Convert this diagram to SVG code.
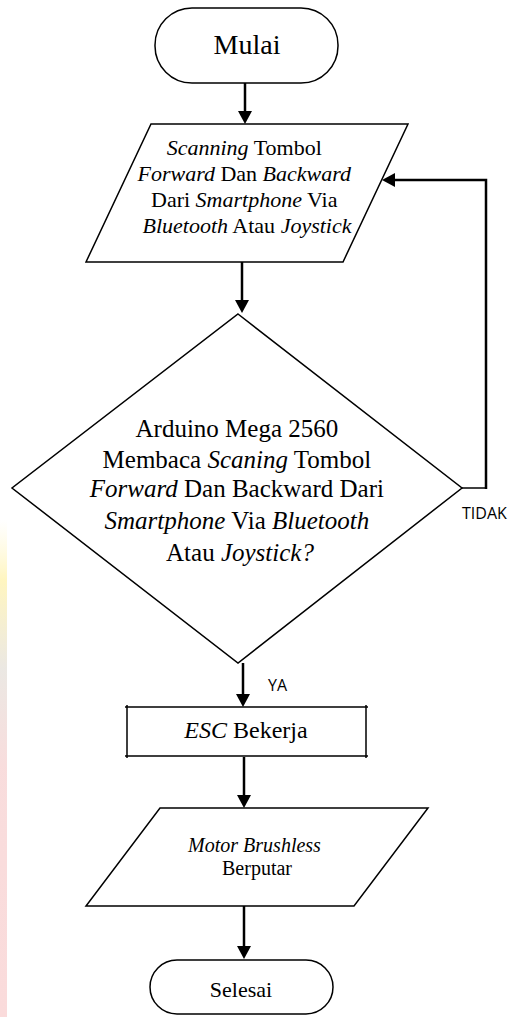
<svg xmlns="http://www.w3.org/2000/svg" width="509" height="1017" viewBox="0 0 509 1017">
<style>
.shape{fill:none;stroke:#000;stroke-width:1.5;stroke-linejoin:miter}
.conn{fill:none;stroke:#000;stroke-width:2.5}
.thin{fill:none;stroke:#000;stroke-width:1.5}
.t{font-family:"Liberation Serif","Times New Roman",serif;fill:#000;text-anchor:middle}
.i{font-style:italic}
.lbl{font-family:"Open Sans","Liberation Sans",sans-serif;font-size:16px;fill:#000}
</style>
<defs>
<marker id="ah" markerUnits="userSpaceOnUse" markerWidth="14" markerHeight="14" refX="0" refY="7" orient="auto" viewBox="0 0 14 14">
<path d="M0,0 L13,7 L0,14 z" fill="#000"/>
</marker>
<linearGradient id="wm" x1="0" y1="0" x2="0" y2="1">
<stop offset="0" stop-color="#fff6c8" stop-opacity="0"/>
<stop offset="0.12" stop-color="#fff3b0"/>
<stop offset="0.3" stop-color="#e6e2dc"/>
<stop offset="0.5" stop-color="#f7d4d4"/>
<stop offset="1" stop-color="#f9d2d2"/>
</linearGradient>
</defs>
<rect width="509" height="1017" fill="#fff"/>
<rect x="0" y="520" width="7" height="497" fill="url(#wm)" opacity="0.8"/>

<g id="mulai">
<rect class="shape" x="155" y="8" width="183" height="75" rx="37" ry="37"/>
<text class="t" x="247" y="54" font-size="28">Mulai</text>
</g>

<g id="scanning">
<path class="shape" d="M151,124 L408,124 L343,262 L86,262 Z"/>
<text class="t" font-size="22">
<tspan x="247" y="155"><tspan class="i">Scanning</tspan> Tombol</tspan>
<tspan x="247" y="181"><tspan class="i">Forward</tspan> Dan <tspan class="i">Backward</tspan></tspan>
<tspan x="247" y="207">Dari <tspan class="i">Smartphone</tspan> Via</tspan>
<tspan x="247" y="233"><tspan class="i">Bluetooth</tspan> Atau <tspan class="i">Joystick</tspan></tspan>
</text>
</g>

<g id="decision">
<path class="shape" d="M238,314 L462,488 L238,663 L12,488 Z"/>
<text class="t" font-size="25">
<tspan x="240" y="437">Arduino Mega 2560</tspan>
<tspan x="240" y="468">Membaca <tspan class="i">Scaning</tspan> Tombol</tspan>
<tspan x="240" y="497"><tspan class="i">Forward</tspan> Dan Backward Dari</tspan>
<tspan x="240" y="529"><tspan class="i">Smartphone</tspan> Via <tspan class="i">Bluetooth</tspan></tspan>
<tspan x="240" y="561">Atau <tspan class="i">Joystick?</tspan></tspan>
</text>
</g>

<g id="esc">
<path class="shape" stroke-width="2" d="M125,707 L368,707 M125,756 L368,756 M127,705 L127,758 M366,705 L366,758"/>
<text class="t" x="246" y="738" font-size="24"><tspan class="i">ESC</tspan> Bekerja</text>
</g>

<g id="motor">
<path class="shape" d="M160,808 L428,808 L354,906 L86,906 Z"/>
<text class="t" font-size="20">
<tspan x="257" y="852" class="i">Motor Brushless</tspan>
<tspan x="257" y="875">Berputar</tspan>
</text>
</g>

<g id="selesai">
<rect class="shape" x="150" y="960" width="183" height="54" rx="27" ry="27"/>
<text class="t" x="241" y="997" font-size="22">Selesai</text>
</g>

<g id="connectors">
<line class="conn" x1="245" y1="83" x2="245" y2="111" marker-end="url(#ah)"/>
<line class="conn" x1="242" y1="262" x2="242" y2="300" marker-end="url(#ah)"/>
<line class="conn" x1="243" y1="663" x2="243" y2="694" marker-end="url(#ah)"/>
<line class="conn" x1="244" y1="757" x2="244" y2="795" marker-end="url(#ah)"/>
<line class="conn" x1="244" y1="906" x2="244" y2="946" marker-end="url(#ah)"/>
<line class="thin" x1="462" y1="488" x2="487" y2="488"/>
<polyline class="conn" points="486,489 486,180 395,180" marker-end="url(#ah)"/>
<text class="lbl" x="268" y="691">YA</text>
<text class="lbl" x="462" y="519">TIDAK</text>
</g>
</svg>
